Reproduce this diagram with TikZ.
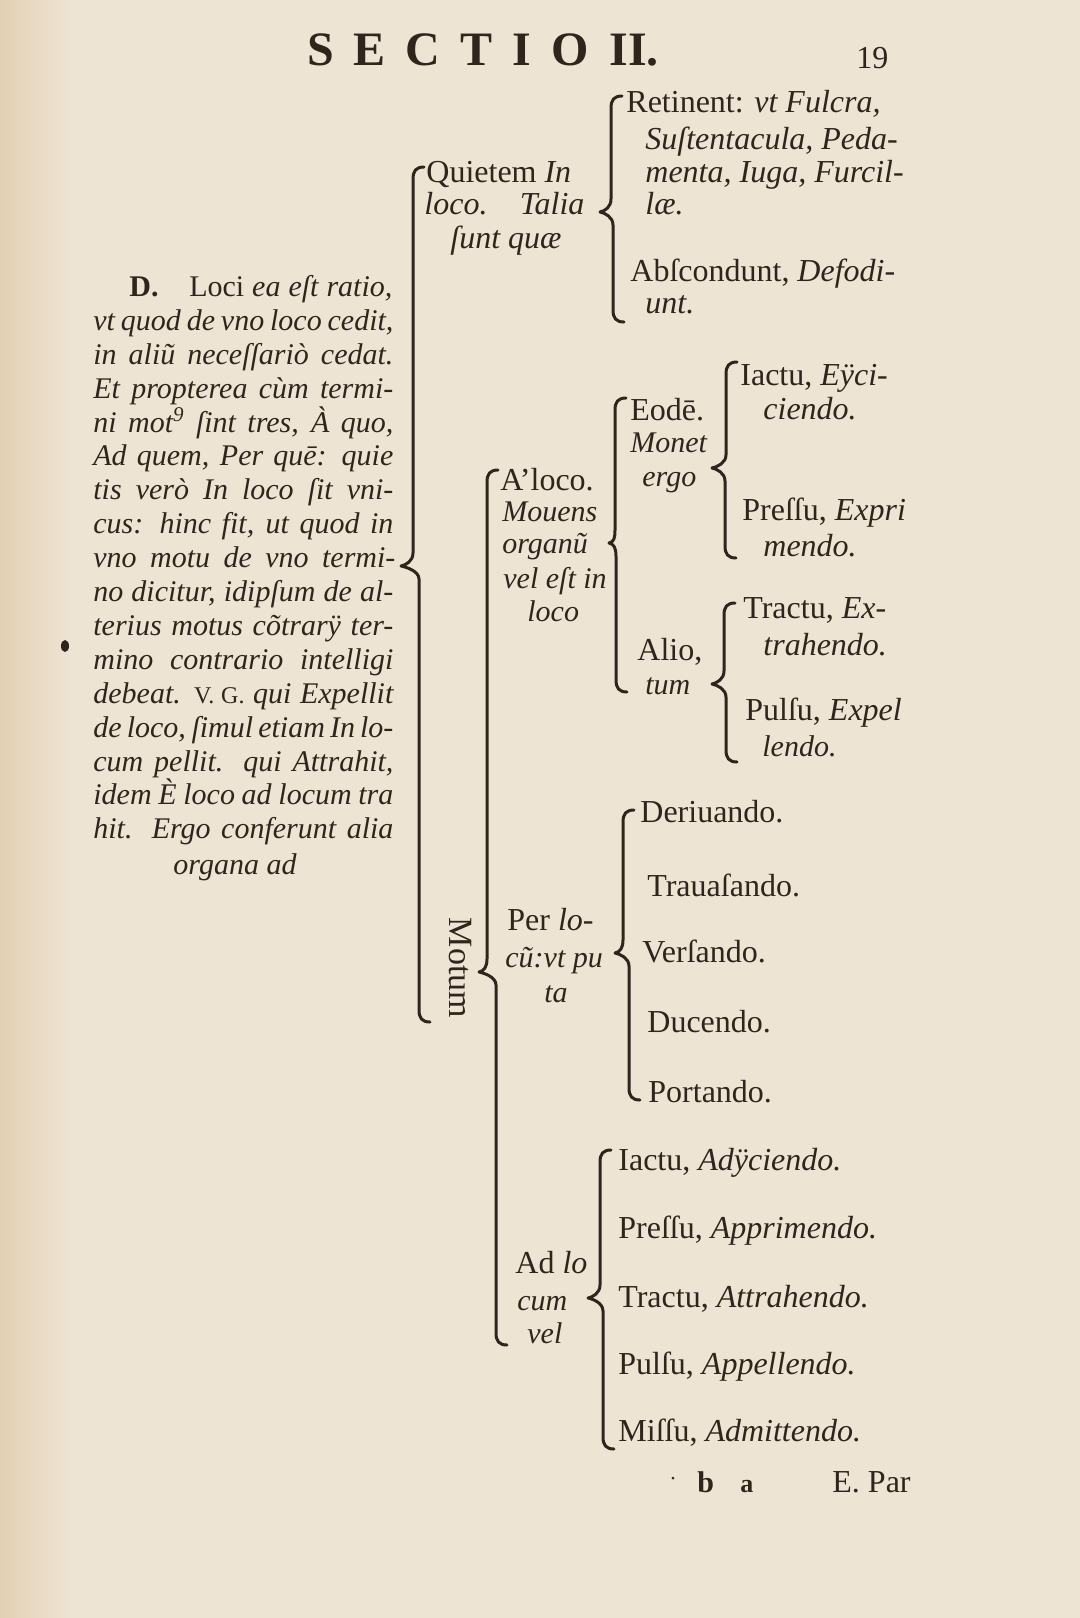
\documentclass[tikz,border=0pt]{standalone}
\usepackage{fontspec}
\setmainfont{Liberation Serif}
\usetikzlibrary{calc}
\definecolor{page}{RGB}{238,228,212}
\definecolor{pageshade}{RGB}{226,208,180}
\definecolor{ink}{RGB}{48,37,28}
\newcommand\obrace[3]{%
 \draw[bracel] ($(#1)+(11,0)$) .. controls ($(#1)+(3,0)$) and ($(#1)+(0,4)$) .. ($(#1)+(0,12)$)
  -- ($(#1 |- #2)+(0,-13)$) .. controls ($(#1 |- #2)+(0,-5)$) and ($(#2)+(5,-1)$) .. (#2)
  .. controls ($(#2)+(5,1)$) and ($(#3 |- #2)+(0,5)$) .. ($(#3 |- #2)+(0,13)$)
  -- ($(#3)+(0,-12)$) .. controls ($(#3)+(0,-4)$) and ($(#3)+(3,0)$) .. ($(#3)+(11,0)$);}
\tikzset{
 txt/.style={anchor=base west, inner sep=0pt, text=ink, font=\fontsize{16}{19}\selectfont},
 stxt/.style={anchor=base west, inner sep=0pt, text=ink, font=\fontsize{15}{18}\selectfont},
 ptxt/.style={anchor=base west, inner sep=0pt, text=ink, font=\fontsize{15}{18}\selectfont\itshape},
 ttl/.style={anchor=base west, inner sep=0pt, text=ink, font=\fontsize{24}{28}\selectfont\bfseries},
 bracel/.style={draw=ink, line width=1.5pt, line cap=round, line join=round},
}
\begin{document}
\begin{tikzpicture}[x=0.5pt,y=-0.5pt]
\useasboundingbox (0,0) rectangle (1080,1618);
\fill[page] (0,0) rectangle (1080,1618);
\shade[left color=pageshade, right color=page] (0,0) rectangle (70,1618);

% header
\node[ttl] (title) at (307,65) {\makebox[140.5pt][s]{S\hfil E\hfil C\hfil T\hfil I\hfil O}};
\node[ttl] (title2) at (609,65) {II.};
\node[txt] (pagenum) at (856,68) {19};

% paragraph
\node[ptxt] (p1) at (129,296) {\makebox[131.5pt][s]{{\upshape\bfseries D.}\hspace{14pt plus 10pt}{\upshape Loci} ea eſt ratio,}};
\node[ptxt] (p2) at (93,330) {\makebox[150pt][s]{vt quod de vno loco cedit,}};
\node[ptxt] (p3) at (93,364) {\makebox[150pt][s]{in aliũ neceſſariò cedat.}};
\node[ptxt] (p4) at (93,398) {\makebox[150pt][s]{Et propterea cùm termi-}};
\node[ptxt] (p5) at (93,432) {\makebox[150pt][s]{ni mot\textsuperscript{9} ſint tres, À quo,}};
\node[ptxt] (p6) at (93,465) {\makebox[150pt][s]{Ad quem, Per quē: quie}};
\node[ptxt] (p7) at (93,499) {\makebox[150pt][s]{tis verò In loco ſit vni-}};
\node[ptxt] (p8) at (93,533) {\makebox[150pt][s]{cus: hinc fit, ut quod in}};
\node[ptxt] (p9) at (93,567) {\makebox[151pt][s]{vno motu de vno termi-}};
\node[ptxt] (p10) at (93,601) {\makebox[150pt][s]{no dicitur, idipſum de al-}};
\node[ptxt] (p11) at (93,635) {\makebox[150pt][s]{terius motus cõtrarÿ ter-}};
\node[ptxt] (p12) at (93,669) {\makebox[150pt][s]{mino contrario intelligi}};
\node[ptxt] (p13) at (93,703) {\makebox[150pt][s]{debeat. {\upshape\fontsize{12}{14}\selectfont V. G.} qui Expellit}};
\node[ptxt] (p14) at (93,737) {\makebox[150pt][s]{de loco, ſimul etiam In lo-}};
\node[ptxt] (p15) at (93,771) {\makebox[150pt][s]{cum pellit. qui Attrahit,}};
\node[ptxt] (p16) at (93,804) {\makebox[150pt][s]{idem È loco ad locum tra}};
\node[ptxt] (p17) at (93,838) {\makebox[150pt][s]{hit. Ergo conferunt alia}};
\node[ptxt, anchor=base] (p18) at (235,874) {organa ad};

% Quietem
\node[txt] (q1) at (426,182) {Quietem \textit{In}};
\node[txt] (q2) at (424,214) {\makebox[80pt][s]{\itshape loco. Talia}};
\node[txt] (q3) at (450,248) {\textit{ſunt quæ}};

\node[txt] (r1) at (626,112) {Retinent: \textit{vt Fulcra,}};
\node[txt] (r2) at (645,149) {\textit{Suſtentacula, Peda-}};
\node[txt] (r3) at (645,182) {\textit{menta, Iuga, Furcil-}};
\node[txt] (r4) at (645,214) {\textit{læ.}};
\node[txt] (ab1) at (630,281) {Abſcondunt, \textit{Defodi-}};
\node[txt] (ab2) at (645,313) {\textit{unt.}};

% Motum
\node[inner sep=0pt, text=ink, font=\fontsize{17}{20}\selectfont, rotate=-90] (motum) at (460,968) {Motum};

% A loco
\node[txt] (al1) at (500,490) {A’loco.};
\node[stxt] (al2) at (502,521) {\textit{Mouens}};
\node[stxt] (al3) at (502,553) {\textit{organũ}};
\node[stxt] (al4) at (503,588) {\textit{vel eſt in}};
\node[stxt] (al5) at (527,621) {\textit{loco}};

\node[txt] (e1) at (630,420) {Eodē.};
\node[stxt] (e2) at (630,452) {\textit{Monet}};
\node[stxt] (e3) at (642,486) {\textit{ergo}};
\node[txt] (ali1) at (637,660) {Alio,};
\node[stxt] (ali2) at (645,694) {\textit{tum}};

\node[txt] (ia1) at (740,385) {Iactu, \textit{Eÿci-}};
\node[txt] (ia2) at (763,419) {\textit{ciendo.}};
\node[txt] (pr1) at (742,520) {Preſſu, \textit{Expri}};
\node[txt] (pr2) at (763,556) {\textit{mendo.}};
\node[txt] (tr1) at (743,618) {Tractu, \textit{Ex-}};
\node[txt] (tr2) at (763,655) {\textit{trahendo.}};
\node[txt] (pu1) at (745,720) {Pulſu, \textit{Expel}};
\node[stxt] (pu2) at (762,756) {\textit{lendo.}};

% Per locum
\node[txt] (pl1) at (507,930) {Per \textit{lo-}};
\node[stxt] (pl2) at (505,967) {\textit{cũ:vt pu}};
\node[stxt] (pl3) at (544,1002) {\textit{ta}};
\node[txt] (der) at (640,822) {Deriuando.};
\node[txt] (trau) at (647,896) {Trauaſando.};
\node[txt] (vers) at (642,962) {Verſando.};
\node[txt] (duc) at (647,1032) {Ducendo.};
\node[txt] (port) at (648,1102) {Portando.};

% Ad locum
\node[txt] (ad1) at (515,1273) {Ad \textit{lo}};
\node[stxt] (ad2) at (517,1310) {\textit{cum}};
\node[stxt] (ad3) at (527,1343) {\textit{vel}};
\node[txt] (x1) at (618,1170) {Iactu, \textit{Adÿciendo.}};
\node[txt] (x2) at (618,1238) {Preſſu, \textit{Apprimendo.}};
\node[txt] (x3) at (618,1307) {Tractu, \textit{Attrahendo.}};
\node[txt] (x4) at (618,1374) {Pulſu, \textit{Appellendo.}};
\node[txt] (x5) at (618,1441) {Miſſu, \textit{Admittendo.}};

% signature line
\node[txt, font=\fontsize{15}{18}\selectfont\bfseries] (sig1) at (697,1492) {b};
\node[txt, font=\fontsize{13}{16}\selectfont\bfseries] (sig2) at (740,1492) {a};
\node[txt] (catch) at (832,1492) {E. Par};
\fill[ink] (673,1478) circle (1.5);
\fill[ink] (65,646) ellipse (4 and 6);

% braces
\coordinate (b1t) at (413,167); \coordinate (b1m) at (401,566); \coordinate (b1b) at (419,1022);
\coordinate (b2t) at (611,96);  \coordinate (b2m) at (600,212); \coordinate (b2b) at (613,322);
\coordinate (b3t) at (487,470); \coordinate (b3m) at (479,972); \coordinate (b3b) at (496,1345);
\coordinate (b4t) at (615,398); \coordinate (b4m) at (609,543); \coordinate (b4b) at (616,692);
\coordinate (b5t) at (726,362); \coordinate (b5m) at (712,468); \coordinate (b5b) at (725,558);
\coordinate (b6t) at (724,603); \coordinate (b6m) at (712,684); \coordinate (b6b) at (726,762);
\coordinate (b7t) at (623,810); \coordinate (b7m) at (615,953); \coordinate (b7b) at (629,1100);
\coordinate (b8t) at (600,1150); \coordinate (b8m) at (588,1298); \coordinate (b8b) at (603,1449);
\obrace{b1t}{b1m}{b1b}
\obrace{b2t}{b2m}{b2b}
\obrace{b3t}{b3m}{b3b}
\obrace{b4t}{b4m}{b4b}
\obrace{b5t}{b5m}{b5b}
\obrace{b6t}{b6m}{b6b}
\obrace{b7t}{b7m}{b7b}
\obrace{b8t}{b8m}{b8b}
\end{tikzpicture}
\end{document}
